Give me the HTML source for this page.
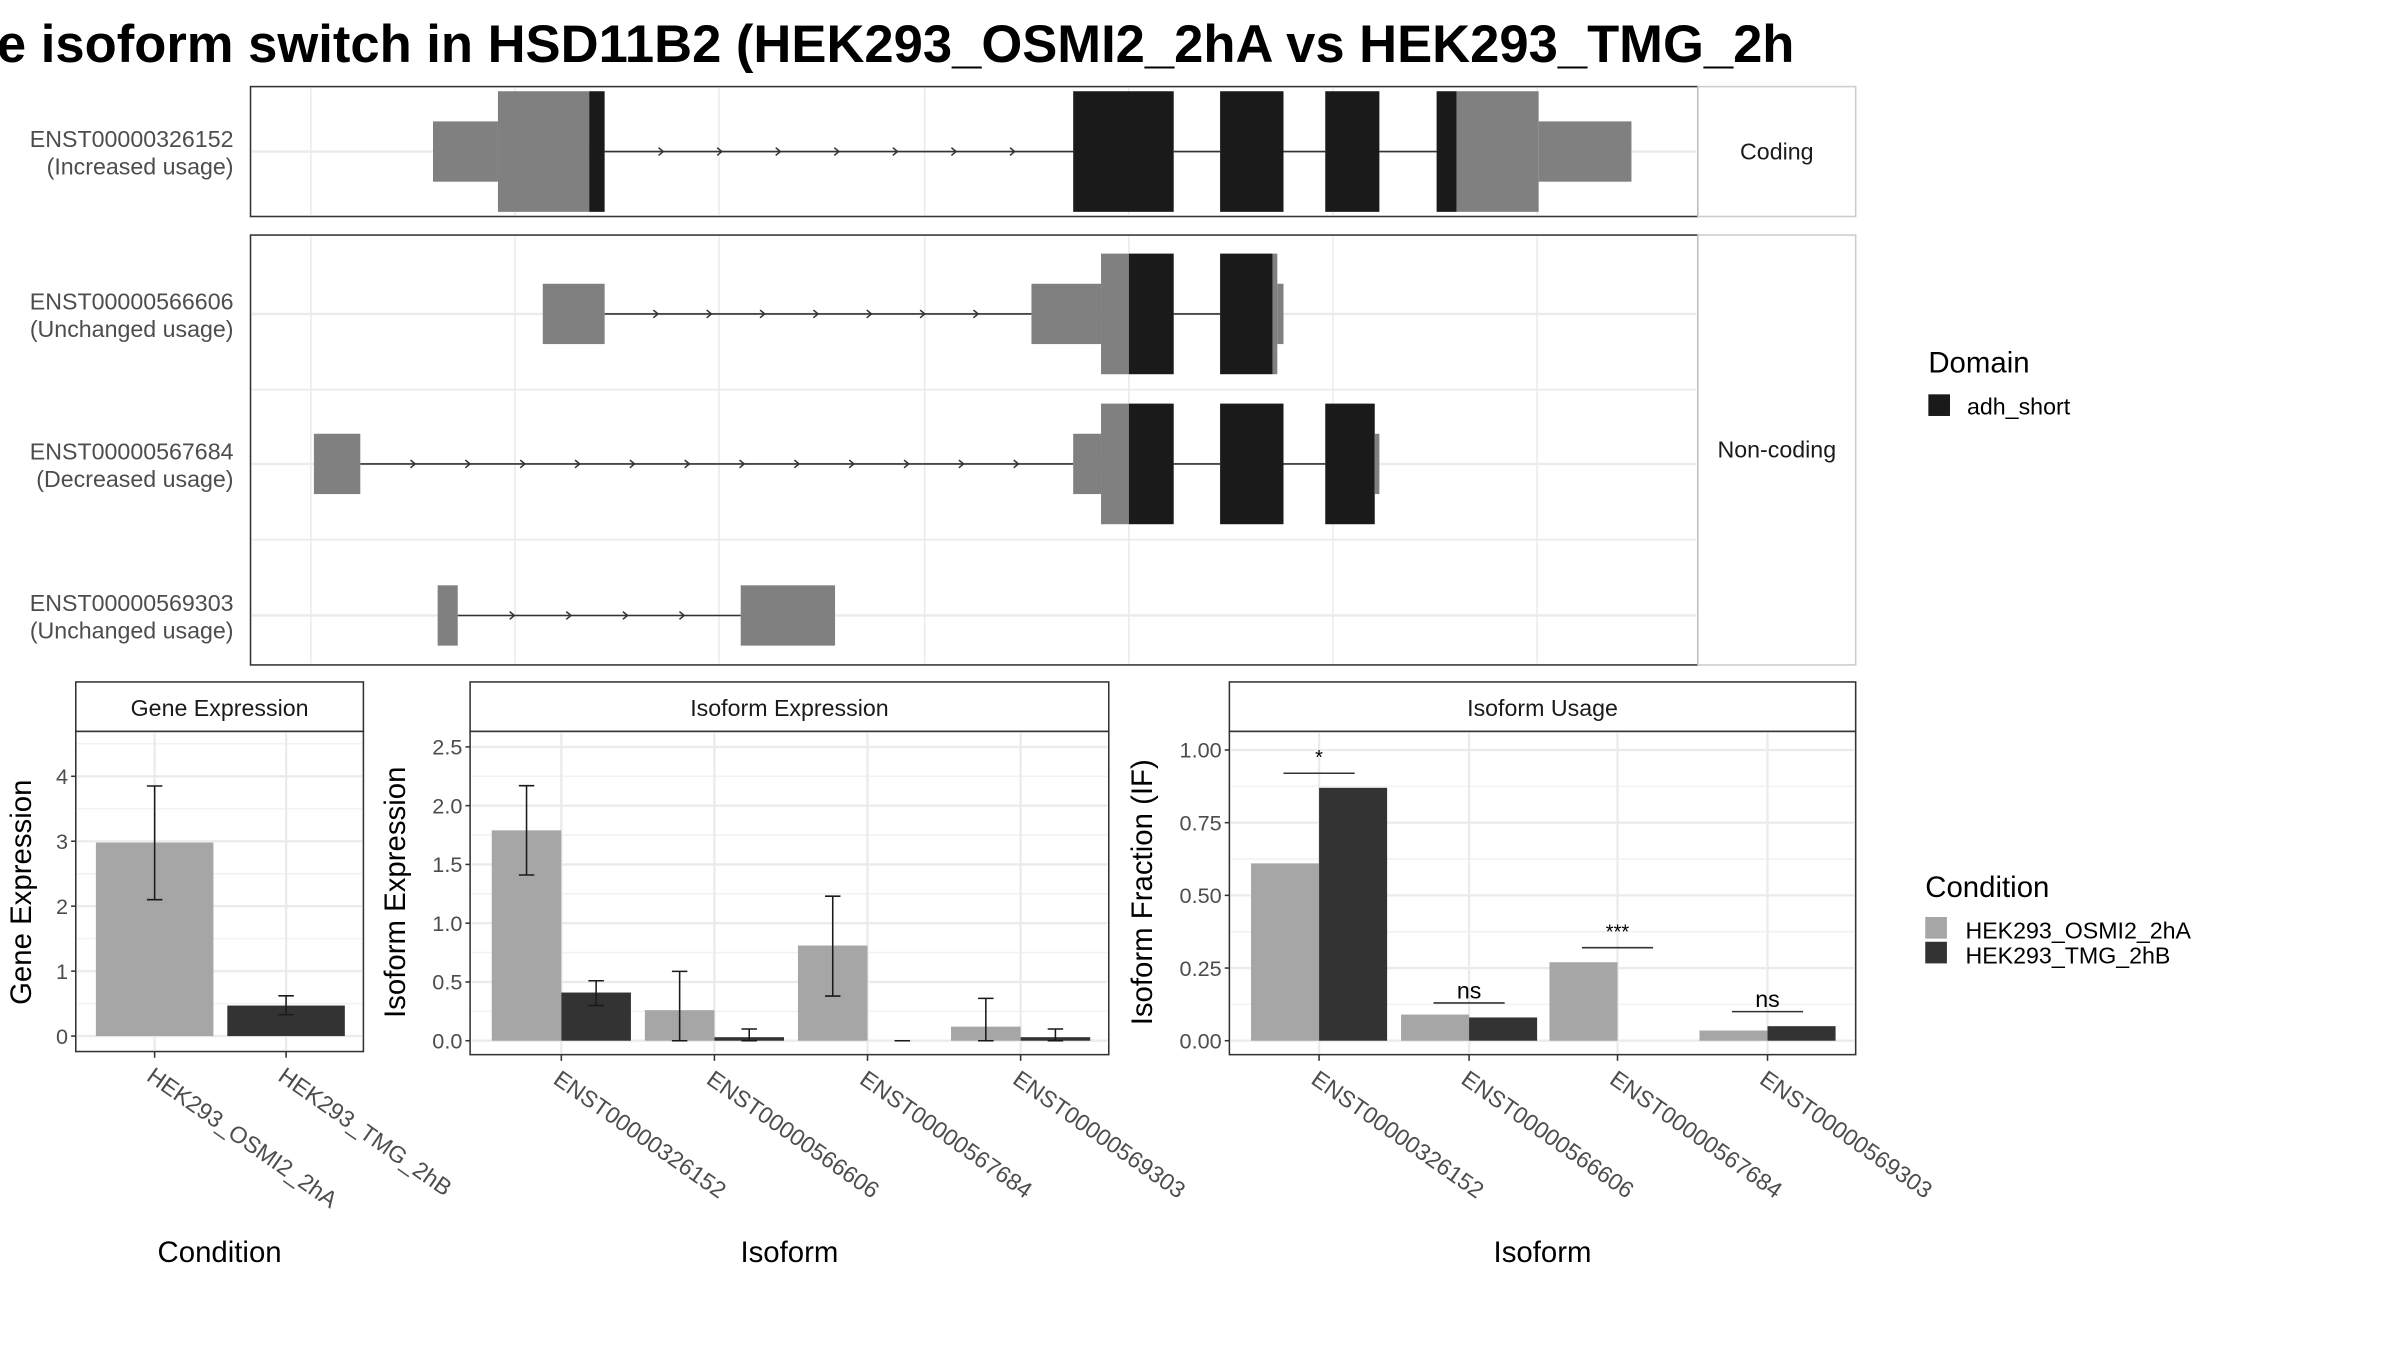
<!DOCTYPE html>
<html><head><meta charset="utf-8"><style>
html,body{margin:0;padding:0;background:#fff;}
svg{display:block;font-family:"Liberation Sans",sans-serif;}
</style></head><body>
<svg id="fig" width="2400" height="1350" viewBox="0 0 1552 873" xmlns="http://www.w3.org/2000/svg">
<rect x="0" y="0" width="1552" height="873" fill="#fff"/>
<text x="-2" y="40" font-size="34" font-weight="bold" fill="#000">e isoform switch in HSD11B2 (HEK293_OSMI2_2hA vs HEK293_TMG_2h</text>
<rect x="1207" y="0" width="345" height="50" fill="#fff"/>
<g id="structure"></g>
<g id="bars"></g>
<g>
<text x="1247" y="241" font-size="19">Domain</text>
<rect x="1247" y="255" width="14" height="14" fill="#1a1a1a"/>
<text x="1272" y="268" font-size="15">adh_short</text>
</g>
<g>
<text x="1245" y="580" font-size="19">Condition</text>
<rect x="1245" y="593" width="14" height="14" fill="#a6a6a6"/>
<rect x="1245" y="609" width="14" height="14" fill="#333"/>
<text x="1271" y="607" font-size="15">HEK293_OSMI2_2hA</text>
<text x="1271" y="623" font-size="15">HEK293_TMG_2hB</text>
</g>
</svg>
<script>
const NS="http://www.w3.org/2000/svg";
// ---------- data ----------
const transcriptNames=["ENST00000326152","ENST00000566606","ENST00000567684","ENST00000569303"];
const transcriptUsage=["(Increased usage)","(Unchanged usage)","(Decreased usage)","(Unchanged usage)"];
// exon segments in genomic units [start,end,type] type: u=utr thin, g=gray thick, d=domain black
const exons0=[[280,322,"u"],[322,381,"g"],[381,391,"d"],[694,759,"d"],[789,830,"d"],[857,892,"d"],[929,942,"d"],[942,995,"g"],[995,1055,"u"]];
const exons1=[[351,391,"u"],[667,712,"u"],[712,730,"g"],[730,759,"d"],[789,823,"d"],[823,826,"g"],[826,830,"u"]];
const exons2=[[203,233,"u"],[694,712,"u"],[712,730,"g"],[730,759,"d"],[789,830,"d"],[857,889,"d"],[889,892,"u"]];
const exons3=[[283,296,"u"],[479,540,"u"]];
const geneCats=["HEK293_OSMI2_2hA","HEK293_TMG_2hB"];
const geneVals=[2.98,0.47];
const geneErrLo=[2.1,0.33];
const geneErrHi=[3.85,0.62];
const geneTicks=["0","1","2","3","4"];
const isoCats=["ENST00000326152","ENST00000566606","ENST00000567684","ENST00000569303"];
const isoExpA=[1.79,0.26,0.81,0.12];
const isoExpB=[0.41,0.03,0.0,0.03];
const isoExpALo=[1.41,0,0.38,0];
const isoExpAHi=[2.17,0.59,1.23,0.36];
const isoExpBLo=[0.30,0,0,0];
const isoExpBHi=[0.51,0.10,0,0.10];
const isoExpTicks=["0.0","0.5","1.0","1.5","2.0","2.5"];
const ifA=[0.61,0.09,0.27,0.035];
const ifB=[0.87,0.08,0.0,0.05];
const sigLabels=["*","ns","***","ns"];
const sigLevel=[0.92,0.13,0.32,0.10];
const ifTicks=["0.00","0.25","0.50","0.75","1.00"];

function el(tag,attrs,parent,text){const e=document.createElementNS(NS,tag);for(const k in attrs)e.setAttribute(k,attrs[k]);if(text!==undefined)e.textContent=text;parent.appendChild(e);return e;}

// ---------- structure ----------
const S=document.getElementById('structure');
const gx=v=>v; // genomic -> px (identity scale in view units)
const rowY=[98,203,300,398];
const allEx=[exons0,exons1,exons2,exons3];
// panels
let r=el('rect',{x:162,y:56,width:936,height:84,fill:'#fff',stroke:'#333','stroke-width':1},S);

r=el('rect',{x:162,y:152,width:936,height:278,fill:'#fff',stroke:'#333','stroke-width':1},S);

const gridX=[201,333,465,598,730,862,994];
gridX.forEach(x=>{[[56,140],[152,430]].forEach(([a,b])=>{const l=el('line',{x1:x,x2:x,y1:a+1,y2:b-1,stroke:'#ebebeb','stroke-width':1},S);});});
[252,349].forEach(y=>{const l=el('line',{x1:163,x2:1097,y1:y,y2:y,stroke:'#ebebeb'},S);});
rowY.forEach(y=>{const l=el('line',{x1:163,x2:1097,y1:y,y2:y,stroke:'#ebebeb','stroke-width':1.5},S);});
// strips
[[56,84,"Coding"],[152,278,"Non-coding"]].forEach(([y,h,t])=>{
 const s=el('rect',{x:1098,y:y,width:102,height:h,fill:'#fff',stroke:'#ccc'},S);
 const tx=el('text',{x:1149,y:y+h/2+5,'font-size':15,'text-anchor':'middle',fill:'#1a1a1a'},S,t);
});
allEx.forEach((ex,i)=>{
 const y=rowY[i];
 const t1=el('text',{x:151,y:y-3,'font-size':15,'text-anchor':'end',fill:'#4d4d4d'},S,transcriptNames[i]);
 const t2=el('text',{x:151,y:y+15,'font-size':15,'text-anchor':'end',fill:'#4d4d4d'},S,transcriptUsage[i]);
 // introns
 for(let k=0;k<ex.length-1;k++){const a=gx(ex[k][1]),b=gx(ex[k+1][0]);if(b-a>2){
  const l=el('line',{x1:a,x2:b,y1:y,y2:y,stroke:'#333','stroke-width':1},S);
  if(i!==0||k<3){const n=Math.floor((b-a)/38);for(let m=1;m<=n;m++){const ax=a+(b-a)*m/(n+0.5)*((n+0.5)/(n+1))+ (b-a)/(n+1)*0; const px=a+(b-a)*m/(n+1)*1; const p=el('path',{d:`M${px-3},${y-2.5}L${px},${y}L${px-3},${y+2.5}`,stroke:'#333',fill:'none','stroke-width':1},S);}}
 }}
 ex.forEach(([a,b,t])=>{const h=t==='u'?39:78;const c=t==='d'?'#1a1a1a':'#808080';
  const e=el('rect',{x:gx(a),y:y-h/2,width:gx(b)-gx(a),height:h,fill:c},S);});
});

// ---------- bar panels ----------
const B=document.getElementById('bars');
function panel(o){
 const g=el('g',{},B);
 const st=el('rect',{x:o.x0,y:441,width:o.x1-o.x0,height:32,fill:'#fff',stroke:'#333'},g);
 const tt=el('text',{x:(o.x0+o.x1)/2,y:463,'font-size':15,'text-anchor':'middle',fill:'#1a1a1a'},g,o.title);
 const bg=el('rect',{x:o.x0,y:473,width:o.x1-o.x0,height:o.yb-473,fill:'#fff',stroke:'#333'},g);
 const ys=v=>o.y0-v*o.ppu;
 // minor grid
 for(let k=0;k<o.ticks.length;k++){const v=k*o.step;
  const mv=v+o.step/2;if(ys(mv)>474){const l=el('line',{x1:o.x0+1,x2:o.x1-1,y1:ys(mv),y2:ys(mv),stroke:'#f2f2f2'},g);}
  const l=el('line',{x1:o.x0+1,x2:o.x1-1,y1:ys(v),y2:ys(v),stroke:'#ebebeb','stroke-width':1.5},g);
  const tk=el('line',{x1:o.x0-3,x2:o.x0,y1:ys(v),y2:ys(v),stroke:'#333'},g);
  const tl=el('text',{x:o.x0-5,y:ys(v)+5,'font-size':14,'text-anchor':'end',fill:'#4d4d4d'},g,o.ticks[k]);
 }
 o.cx.forEach((cx,i)=>{
  const l=el('line',{x1:cx,x2:cx,y1:474,y2:o.yb-1,stroke:'#ebebeb','stroke-width':1.5},g);
  const tk=el('line',{x1:cx,x2:cx,y1:o.yb,y2:o.yb+4,stroke:'#333'},g);
  const tl=el('text',{x:cx-6,y:o.yb+18,'font-size':15,fill:'#4d4d4d',transform:`rotate(35 ${cx-6} ${o.yb+18})`},g,o.cats[i]);
 });
 o.series.forEach(s=>{s.vals.forEach((v,i)=>{const x=o.cx[i]+s.off;
  const b=el('rect',{x:x,y:ys(v),width:o.bw,height:Math.max(0,ys(0)-ys(v)),fill:s.color},g);
  if(s.lo){const mx=x+o.bw/2;const e=el('path',{d:`M${mx-5},${ys(s.hi[i])}H${mx+5}M${mx},${ys(s.hi[i])}V${ys(s.lo[i])}M${mx-5},${ys(s.lo[i])}H${mx+5}`,stroke:'#1a1a1a',fill:'none','stroke-width':1},g);}
 });});
 if(o.sig){o.sig.forEach((t,i)=>{const cx=o.cx[i];const y=ys(o.sigLevel[i]);
  const l=el('line',{x1:cx-23,x2:cx+23,y1:y,y2:y,stroke:'#333'},g);
  const tx=el('text',{x:cx,y:y-(t==='ns'?3:6),'font-size':t==='ns'?15:13,'text-anchor':'middle'},g,t);});}
 const yt=el('text',{x:o.ytx,y:o.yty,'font-size':19,'text-anchor':'middle',transform:`rotate(-90 ${o.ytx} ${o.yty})`},g,o.ytitle);
 const xt=el('text',{x:(o.x0+o.x1)/2,y:816,'font-size':19,'text-anchor':'middle'},g,o.xtitle);
}
panel({name:'gene-expression-panel',title:'Gene Expression',x0:49,x1:235,yb:680,y0:670,ppu:42,step:1,ticks:geneTicks,cx:[100,185],cats:geneCats,bw:76,
 series:[{name:'gene-bar',vals:[geneVals[0]],lo:[geneErrLo[0]],hi:[geneErrHi[0]],color:'#a6a6a6',off:-38},],ytitle:'Gene Expression',ytx:20,yty:577,xtitle:'Condition'});
// second gene bar (dark) uses second category
(function(){const g=B.lastChild;const ys=v=>670-v*42;const x=185-38;
 const b=el('rect',{x:x,y:ys(geneVals[1]),width:76,height:ys(0)-ys(geneVals[1]),fill:'#333'},g);
 const mx=x+38;const e=el('path',{d:`M${mx-5},${ys(geneErrHi[1])}H${mx+5}M${mx},${ys(geneErrHi[1])}V${ys(geneErrLo[1])}M${mx-5},${ys(geneErrLo[1])}H${mx+5}`,stroke:'#1a1a1a',fill:'none'},g);})();
panel({name:'isoform-expression-panel',title:'Isoform Expression',x0:304,x1:717,yb:682,y0:673,ppu:76,step:0.5,ticks:isoExpTicks,cx:[363,462,561,660],cats:isoCats,bw:45,
 series:[{name:'isoform-exp-bar-osmi2',vals:isoExpA,lo:isoExpALo,hi:isoExpAHi,color:'#a6a6a6',off:-45},{name:'isoform-exp-bar-tmg',vals:isoExpB,lo:isoExpBLo,hi:isoExpBHi,color:'#333',off:0}],
 ytitle:'Isoform Expression',ytx:262,yty:577,xtitle:'Isoform'});
panel({name:'isoform-usage-panel',title:'Isoform Usage',x0:795,x1:1200,yb:682,y0:673,ppu:188,step:0.25,ticks:ifTicks,cx:[853,950,1046,1143],cats:isoCats,bw:44,
 series:[{name:'if-bar-osmi2',vals:ifA,color:'#a6a6a6',off:-44},{name:'if-bar-tmg',vals:ifB,color:'#333',off:0}],
 sig:sigLabels,sigLevel:sigLevel,ytitle:'Isoform Fraction (IF)',ytx:745,yty:577,xtitle:'Isoform'});
</script>
</body></html>
